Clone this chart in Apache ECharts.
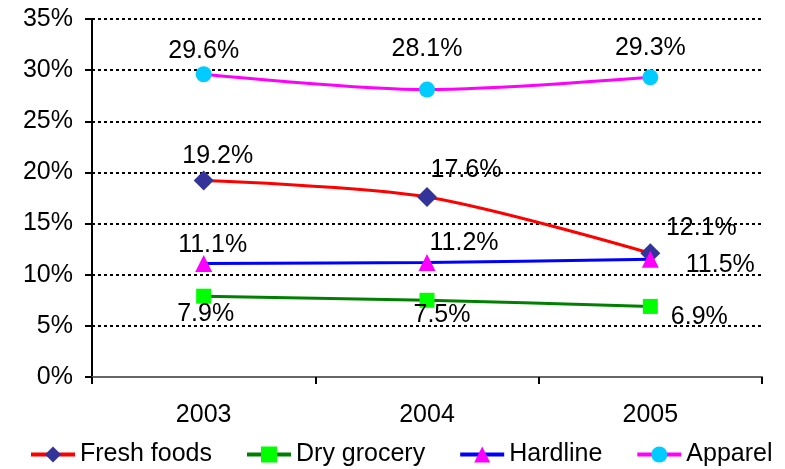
<!DOCTYPE html>
<html>
<head>
<meta charset="utf-8">
<script src="https://cdn.jsdelivr.net/npm/echarts@6/dist/echarts.min.js"></script>
<style>
  html, body { margin: 0; padding: 0; background: #fff; }
  #main { width: 785px; height: 469px; }
</style>
</head>
<body>
<div id="main"></div>
<script>
/* data */
const years = ["2003", "2004", "2005"];
const freshFoods = [19.2, 17.6, 12.1];
const dryGrocery = [7.9, 7.5, 6.9];
const hardline = [11.1, 11.2, 11.5];
const apparel = [29.6, 28.1, 29.3];

/* label placement (dx, dy from the point) */
const freshOffsets = [[14, -25], [39, -27], [51, -25]];
const dryOffsets = [[2, 18], [15, 15], [49, 11]];
const hardOffsets = [[9, -18], [37, -19], [70, 6]];
const apparelOffsets = [[0, -23], [0, -40], [0, -29]];

const FONT = "Liberation Sans, Arial, sans-serif";

const withLabels = (values, offsets) =>
  values.map((v, i) => ({
    value: v,
    label: { offset: offsets[i] },
  }));

const makeSeries = (name, values, offsets, lineColor, symbol, symbolSize, markColor) => ({
  name: name,
  type: "line",
  smooth: 0.3,
  data: withLabels(values, offsets),
  symbol: symbol,
  symbolSize: symbolSize,
  lineStyle: { color: lineColor, width: 3 },
  itemStyle: { color: markColor, borderWidth: 0 },
  color: lineColor,
  label: {
    show: true,
    position: "inside",
    formatter: (p) => p.value.toFixed(1) + "%",
    color: "#000",
    fontFamily: FONT,
    fontSize: 25,
  },
  emphasis: { disabled: true },
  z: 3,
});

let chartDom = document.getElementById("main");
let myChart = echarts.init(chartDom, null, { renderer: "canvas" });
let option = {
  animation: false,
  backgroundColor: "#fff",
  grid: { left: 92, right: 23, top: 19, bottom: 92 },
  legend: {
    left: 29,
    top: 442,
    width: 1000,
    padding: 0,
    itemWidth: 44,
    itemHeight: 20,
    itemGap: 33,
    lineStyle: { width: 4 },
    textStyle: { fontFamily: FONT, fontSize: 25, color: "#000" },
    data: ["Fresh foods", "Dry grocery", "Hardline", "Apparel"],
  },
  xAxis: {
    type: "category",
    data: years,
    boundaryGap: true,
    axisLine: { lineStyle: { color: "#666", width: 2 } },
    axisTick: { show: true, length: 7, lineStyle: { color: "#000", width: 2 } },
    axisLabel: { fontFamily: FONT, fontSize: 25, color: "#000", margin: 26 },
    splitLine: { show: false },
  },
  yAxis: {
    type: "value",
    min: 0,
    max: 35,
    interval: 5,
    axisLine: { show: true, lineStyle: { color: "#000", width: 2 } },
    axisTick: { show: true, length: 7, lineStyle: { color: "#000", width: 2 } },
    axisLabel: {
      formatter: "{value}%",
      fontFamily: FONT,
      fontSize: 25,
      color: "#000",
      margin: 19,
    },
    splitLine: {
      show: true,
      lineStyle: { color: "#000", width: 2, type: [3, 3] },
    },
  },
  series: [
    makeSeries("Fresh foods", freshFoods, freshOffsets, "#FF0000", "diamond", 20, "#333399"),
    makeSeries("Dry grocery", dryGrocery, dryOffsets, "#008000", "rect", 15, "#00FF00"),
    makeSeries("Hardline", hardline, hardOffsets, "#0000FF", "triangle", 17, "#FF00FF"),
    makeSeries("Apparel", apparel, apparelOffsets, "#FF00FF", "circle", 16, "#00CCFF"),
  ],
};

option && myChart.setOption(option);
</script>
</body>
</html>
